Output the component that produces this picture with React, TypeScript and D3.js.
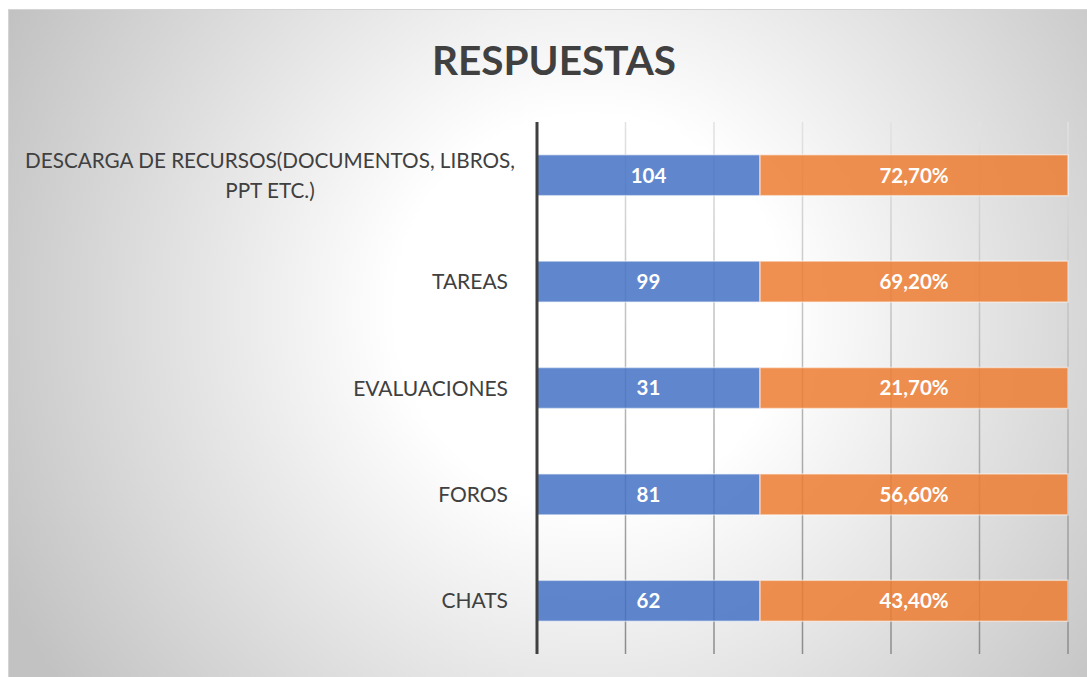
import React from "react";
import * as d3 from "d3";

const categories = [
  ["DESCARGA DE RECURSOS(DOCUMENTOS, LIBROS,", "PPT ETC.)"],
  ["TAREAS"],
  ["EVALUACIONES"],
  ["FOROS"],
  ["CHATS"],
];
const counts = [104, 99, 31, 81, 62];
const percentLabels = ["72,70%", "69,20%", "21,70%", "56,60%", "43,40%"];
// visual share of the first (blue) segment in the 100% stacked bar
const countShare = [0.42, 0.42, 0.42, 0.42, 0.42];
const gridTicks = [0, 1 / 6, 2 / 6, 3 / 6, 4 / 6, 5 / 6, 1];
const title = "RESPUESTAS";

const W = 1087;
const H = 677;
const plot = { left: 537, right: 1068, top: 122, bottom: 654 };
const FONT = "Lato, 'Noto Sans', sans-serif";

export default function App() {
  const x = d3.scaleLinear().domain([0, 1]).range([plot.left, plot.right]);
  const y = d3
    .scaleBand<number>()
    .domain(d3.range(categories.length))
    .range([plot.top, plot.bottom])
    .paddingInner(0.615)
    .paddingOuter(0.3075);
  const bw = y.bandwidth();

  return (
    <svg
      width={W}
      height={H}
      style={{ position: "absolute", left: 0, top: 0, background: "#fff" }}
    >
      <defs>
        <radialGradient id="bg" gradientUnits="userSpaceOnUse" cx={590} cy={310} r={650}>
          <stop offset="0" stopColor="#ffffff" />
          <stop offset="0.3" stopColor="#ffffff" />
          <stop offset="1" stopColor="#c2c2c2" />
        </radialGradient>
        <linearGradient id="grid" gradientUnits="userSpaceOnUse" x1={0} y1={plot.top} x2={0} y2={plot.bottom}>
          <stop offset="0" stopColor="#e2e2e2" />
          <stop offset="1" stopColor="#8c8c8c" />
        </linearGradient>
      </defs>
      <rect x={8.5} y={9.5} width={W} height={H} fill="url(#bg)" stroke="#d4d4d4" strokeWidth={1} />
      <text
        x={554}
        y={75}
        textAnchor="middle"
        fontFamily={FONT}
        fontWeight={700}
        fontSize={40.5}
        fill="#404040"
      >
        {title}
      </text>
      {gridTicks.slice(1).map((t, i) => (
        <line
          key={i}
          x1={x(t)}
          x2={x(t)}
          y1={plot.top}
          y2={plot.bottom}
          stroke="url(#grid)"
          strokeWidth={1.5}
        />
      ))}
      {categories.map((c, i) => {
        const y0 = y(i)!;
        const xm = x(countShare[i]);
        return (
          <g key={i}>
            <rect
              x={x(0)}
              y={y0}
              width={xm - x(0)}
              height={bw}
              fill="#4472C4"
              fillOpacity={0.85}
              stroke="#ffffff"
              strokeOpacity={0.5}
              strokeWidth={1.5}
            />
            <rect
              x={xm}
              y={y0}
              width={x(1) - xm}
              height={bw}
              fill="#ED7D31"
              fillOpacity={0.85}
              stroke="#ffffff"
              strokeOpacity={0.5}
              strokeWidth={1.5}
            />
            <text
              x={(x(0) + xm) / 2}
              y={y0 + bw / 2}
              dy="0.36em"
              textAnchor="middle"
              fontFamily={FONT}
              fontWeight={700}
              fontSize={20.5}
              fill="#ffffff"
            >
              {counts[i]}
            </text>
            <text
              x={(xm + x(1)) / 2}
              y={y0 + bw / 2}
              dy="0.36em"
              textAnchor="middle"
              fontFamily={FONT}
              fontWeight={700}
              fontSize={20.5}
              fill="#ffffff"
            >
              {percentLabels[i]}
            </text>
            {c.length === 1 ? (
              <text
                x={508}
                y={y0 + bw / 2}
                dy="0.36em"
                textAnchor="end"
                fontFamily={FONT}
                fontSize={21}
                fill="#404040"
              >
                {c[0]}
              </text>
            ) : (
              <text
                x={270}
                y={y0 + bw / 2}
                textAnchor="middle"
                fontFamily={FONT}
                fontSize={20.7}
                fill="#404040"
              >
                {c.map((line, j) => (
                  <tspan key={j} x={270} dy={j === 0 ? -7 : 30}>
                    {line}
                  </tspan>
                ))}
              </text>
            )}
          </g>
        );
      })}
      <line
        x1={plot.left}
        x2={plot.left}
        y1={plot.top}
        y2={plot.bottom}
        stroke="#404040"
        strokeWidth={3}
      />
    </svg>
  );
}
